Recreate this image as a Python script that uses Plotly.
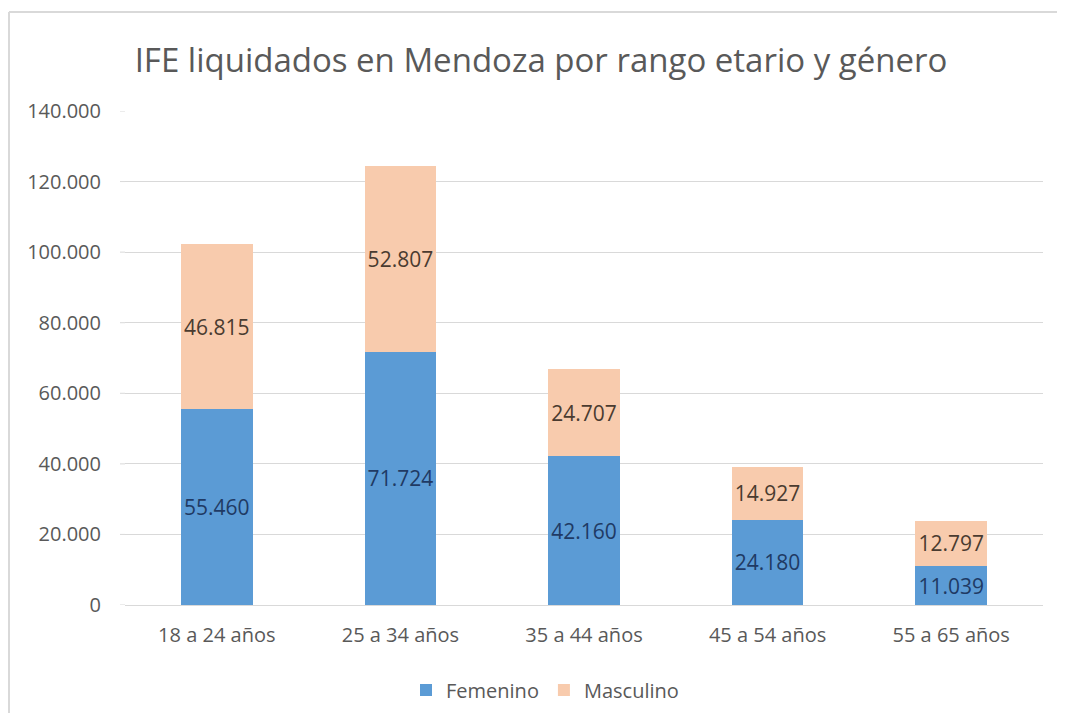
import plotly.graph_objects as go

categories = ["18 a 24 años", "25 a 34 años", "35 a 44 años", "45 a 54 años", "55 a 65 años"]
femenino = [55460, 71724, 42160, 24180, 11039]
masculino = [46815, 52807, 24707, 14927, 12797]
y_ticks = [0, 20000, 40000, 60000, 80000, 100000, 120000, 140000]
y_tick_labels = ["0", "20.000", "40.000", "60.000", "80.000", "100.000", "120.000", "140.000"]


def fmt(v):
    return f"{v:,}".replace(",", ".")


FONT = "Open Sans, Roboto, sans-serif"

fig = go.Figure()
fig.add_trace(go.Bar(
    name="Femenino", x=categories, y=femenino,
    marker=dict(color="#5B9BD5", line=dict(width=0)),
    text=[fmt(v) for v in femenino], textposition="inside",
    insidetextanchor="middle", textangle=0,
    textfont=dict(color="#1F3A64", size=21, family=FONT),
))
fig.add_trace(go.Bar(
    name="Masculino", x=categories, y=masculino,
    marker=dict(color="#F8CBAD", line=dict(width=0)),
    text=[fmt(v) for v in masculino], textposition="inside",
    insidetextanchor="middle", textangle=0,
    textfont=dict(color="#4A3B30", size=21, family=FONT),
))

# page body has an 8px margin; figure coordinates are offset by it
OFF = 8
W, H = 1065 - 2 * OFF, 721 - 2 * OFF
L = 125 - OFF
T = 111 - OFF
R = W - (1043 - OFF)
B = H - (605 - OFF)
pw, ph = W - L - R, H - T - B


def px_x(px):  # reference screen px -> paper
    return (px - OFF - L) / pw


def px_y(py):
    return (H - B - (py - OFF)) / ph


fig.update_layout(
    width=W, height=H,
    barmode="stack", bargap=0.61,
    paper_bgcolor="white", plot_bgcolor="white",
    margin=dict(l=L, r=R, t=T, b=B, pad=0, autoexpand=False),
    font=dict(family=FONT, color="#595959", size=20),
    title=dict(text="IFE liquidados en Mendoza por rango etario y género",
               x=px_x(541), xref="paper", xanchor="center",
               y=1 - (60 - OFF) / H, yanchor="middle",
               font=dict(size=33, color="#595959", family=FONT)),
    yaxis=dict(range=[0, 140000], tickvals=y_ticks, ticktext=y_tick_labels,
               showgrid=True, gridcolor="#D9D9D9", gridwidth=1,
               zeroline=False, showline=False, ticks="", ticklabelstandoff=23,
               tickfont=dict(size=20, color="#595959")),
    xaxis=dict(showline=True, linecolor="#D9D9D9", linewidth=1, ticks="",
               tickfont=dict(size=20, color="#595959"), ticklabelstandoff=12),
    legend=dict(orientation="h", x=px_x(545), xanchor="center",
                y=px_y(690), yanchor="middle",
                font=dict(size=20, color="#595959"),
                traceorder="normal"),
    showlegend=True,
    shapes=[
        dict(type="line", xref="paper", yref="paper",
             x0=px_x(9), x1=px_x(1090), y0=px_y(12), y1=px_y(12),
             line=dict(color="#D9D9D9", width=2), layer="below"),
        dict(type="line", xref="paper", yref="paper",
             x0=px_x(9), x1=px_x(9), y0=px_y(760), y1=px_y(12),
             line=dict(color="#D9D9D9", width=2), layer="below"),
        # extend gridlines slightly left of the category band, as in the reference
        *[dict(type="line", xref="paper", yref="y",
               x0=px_x(120), x1=0, y0=v, y1=v,
               line=dict(color="#D9D9D9", width=1), layer="below")
          for v in y_ticks],
    ],
)

fig.write_html("out.html")
